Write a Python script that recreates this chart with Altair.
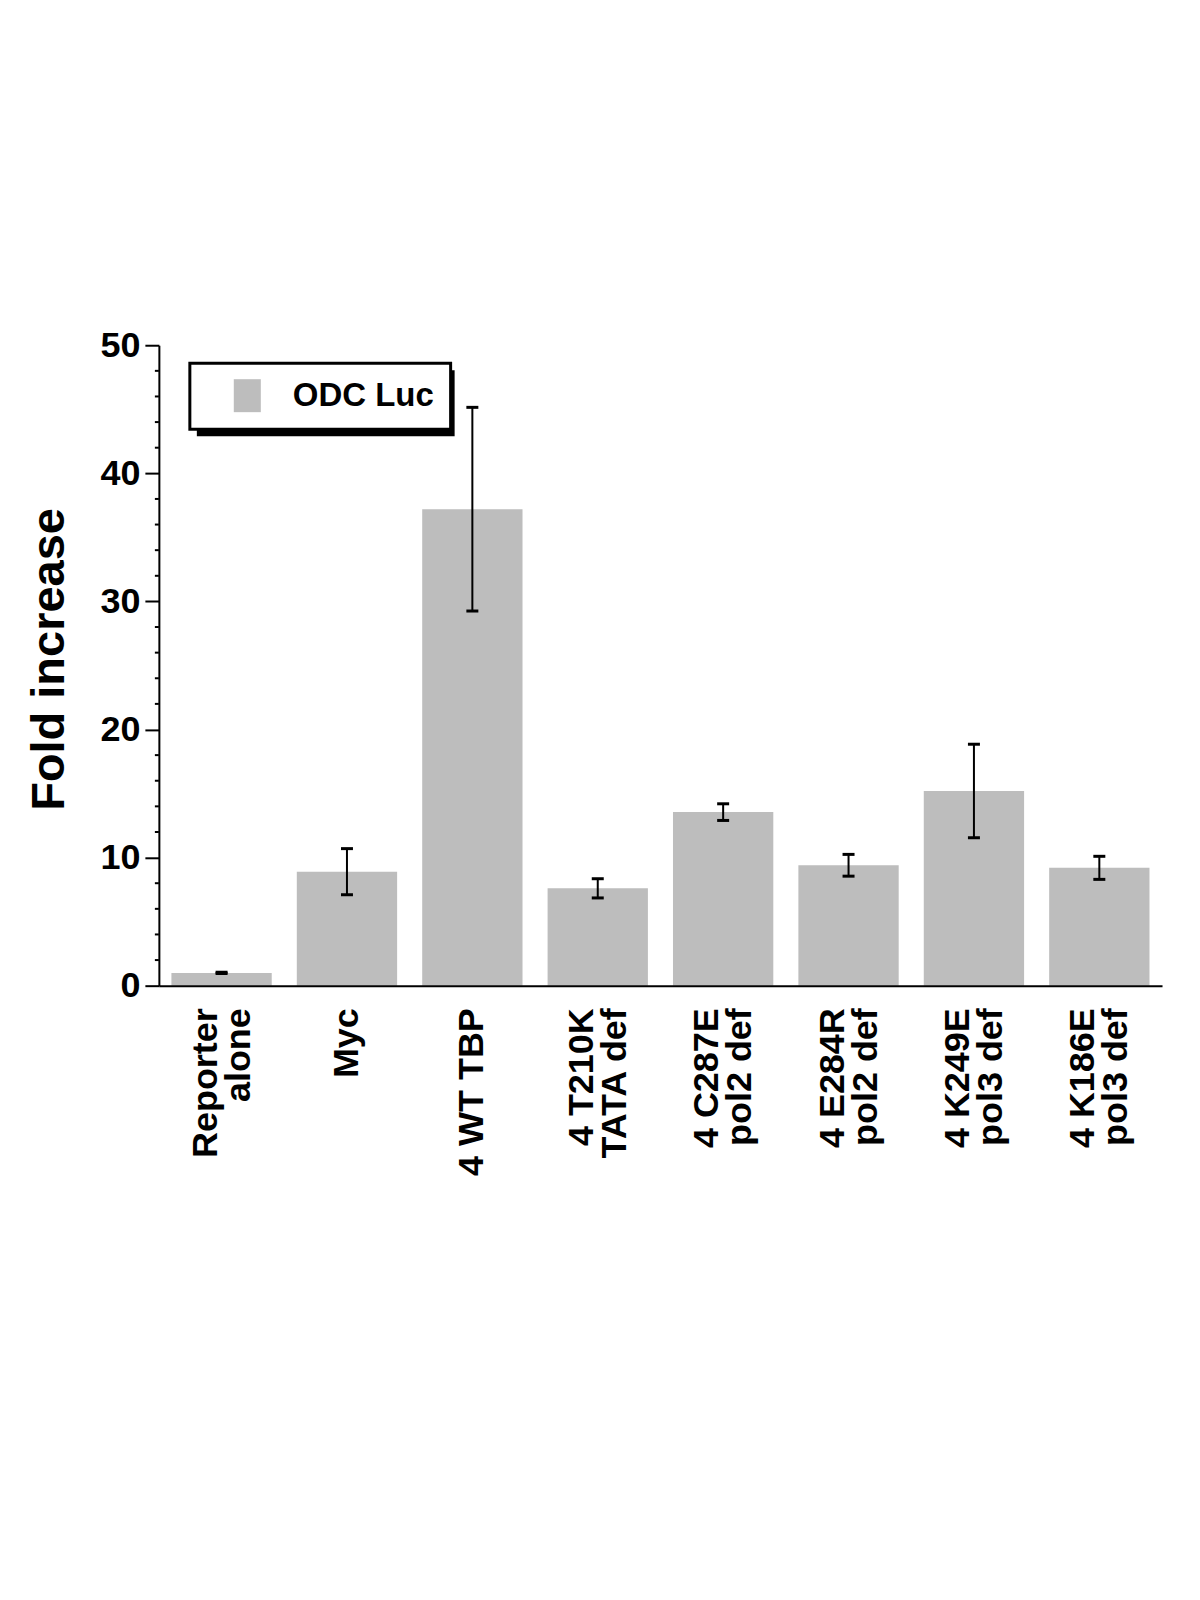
import altair as alt
import pandas as pd

categories = [
    "Reporter\nalone",
    "Myc",
    "4 WT TBP",
    "4 T210K\nTATA def",
    "4 C287E\npol2 def",
    "4 E284R\npol2 def",
    "4 K249E\npol3 def",
    "4 K186E\npol3 def",
]
fold_increase = [1.0, 8.9, 37.2, 7.6, 13.55, 9.4, 15.2, 9.2]
error = [0.05, 1.8, 7.95, 0.75, 0.65, 0.85, 3.65, 0.9]
series_name = "ODC Luc"
y_ticks = [0, 10, 20, 30, 40, 50]
minor_ticks = [v for v in range(2, 50, 2) if v % 10 != 0]

df = pd.DataFrame({
    "category": categories,
    "value": fold_increase,
    "err": error,
    "series": [series_name] * len(categories),
})
df["lo"] = df["value"] - df["err"]
df["hi"] = df["value"] + df["err"]
minor_df = pd.DataFrame({"t": minor_ticks})

FONT = "Liberation Sans"

x_enc = alt.X(
    "category:N",
    sort=None,
    scale=alt.Scale(paddingInner=0.2, paddingOuter=0.1),
    axis=alt.Axis(
        title=None, ticks=False, domainColor="black", domainWidth=2,
        labelAngle=270, labelAlign="right", labelBaseline="middle",
        labelFont=FONT, labelFontSize=36, labelFontWeight="bold",
        labelColor="black", labelPadding=22, labelLineHeight=33,
        labelOffset={"condition": {"test": "indexof(datum.label, '\\n') >= 0", "value": -16},
                     "value": 0},
        labelExpr="split(datum.label, '\\n')", labelLimit=400, zindex=1,
    ),
)

y_scale = alt.Scale(domain=[0, 50], nice=False)

bars = alt.Chart(df).mark_bar(opacity=1).encode(
    x=x_enc,
    y=alt.Y(
        "value:Q", scale=y_scale,
        axis=alt.Axis(
            title="Fold increase", values=y_ticks, grid=False,
            domainColor="black", domainWidth=2, tickColor="black",
            tickWidth=2, tickSize=14, labelPadding=5,
            labelFont=FONT, labelFontSize=36, labelFontWeight="bold",
            labelColor="black", titleFont=FONT, titleFontSize=47,
            titleFontWeight="bold", titleColor="black", titleAngle=270,
            titleX=-109, titleY=314, titleAlign="center",
            titleBaseline="middle", zindex=1,
        ),
    ),
    color=alt.Color(
        "series:N",
        scale=alt.Scale(range=["#bdbdbd"]),
        legend=alt.Legend(
            title=None, orient="none", legendX=31, legendY=18,
            symbolType="M-0.82,-1H0.82V1H-0.82Z", symbolSize=1089,
            symbolStrokeWidth=0, symbolOpacity=1,
            labelFont=FONT, labelFontSize=33, labelFontWeight="bold",
            labelColor="black", padding=16, symbolOffset=25, labelOffset=29,
            strokeColor="black", fillColor="white", zindex=1,
        ),
    ),
)

stems = alt.Chart(df).mark_rule(color="black", strokeWidth=2).encode(
    x=alt.X("category:N", sort=None),
    y="lo:Q",
    y2="hi:Q",
)

caps_hi = alt.Chart(df).mark_tick(color="black", thickness=3, size=12, opacity=1).encode(
    x=alt.X("category:N", sort=None),
    y="hi:Q",
)
caps_lo = alt.Chart(df).mark_tick(color="black", thickness=3, size=12, opacity=1).encode(
    x=alt.X("category:N", sort=None),
    y="lo:Q",
)

minor = alt.Chart(minor_df).mark_rule(color="black", strokeWidth=2, clip=False).encode(
    y=alt.Y("t:Q", scale=y_scale),
    x=alt.value(-4),
    x2=alt.value(0),
)

# legend drop shadow (decoration)
shadow = alt.Chart(pd.DataFrame({"s": [0]})).mark_rect(color="black").encode(
    x=alt.value(38), x2=alt.value(296),
    y=alt.value(25), y2=alt.value(91),
)

chart = alt.layer(shadow, bars, stems, caps_hi, caps_lo, minor).properties(
    width=1004, height=641,
    autosize=alt.AutoSizeParams(type="none"),
    padding={"left": 151, "top": 337, "right": 30, "bottom": 230},
).configure_view(stroke=None).configure_legend(strokeWidth=3)

chart.save("out.html", embed_options={"renderer": "svg", "actions": False})
